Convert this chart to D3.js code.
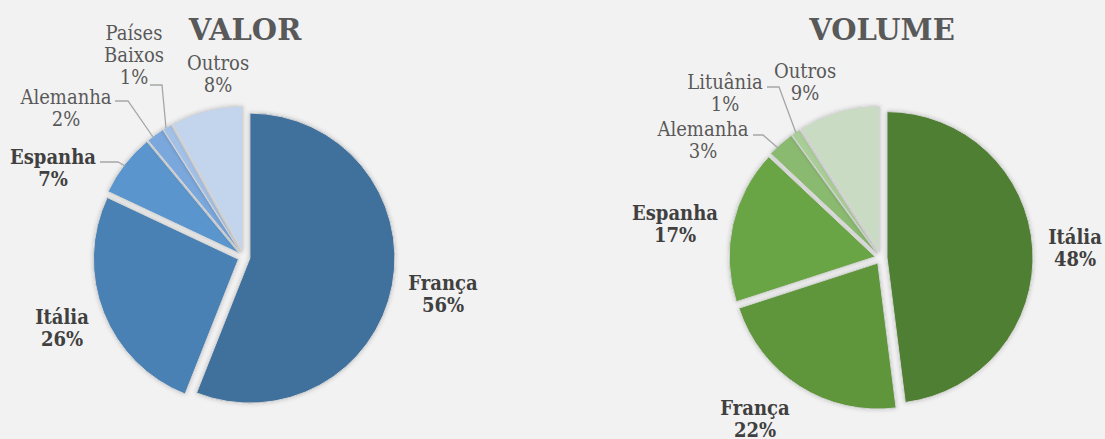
<!DOCTYPE html>
<html>
<head>
<meta charset="utf-8">
<script src="https://cdn.jsdelivr.net/npm/d3@7"></script>
<style>
  html, body { margin: 0; padding: 0; background: #f2f2f2; }
  svg { display: block; }
</style>
</head>
<body>
<svg id="chart" width="1105" height="439"></svg>
<script>
// Valor (value) shares, clockwise from 12 o'clock
const valorLabels = ['França', 'Itália', 'Espanha', 'Alemanha', 'Países Baixos', 'Outros'];
const valorValues = [56, 26, 7, 2, 1, 8];
const valorColors = ['#41709c', '#4a81b4', '#5a96cd', '#7aa7dc', '#a3c0e6', '#c3d5ec'];

// Volume shares, clockwise from 12 o'clock
const volumeLabels = ['Itália', 'França', 'Espanha', 'Alemanha', 'Lituânia', 'Outros'];
const volumeValues = [48, 22, 17, 3, 1, 9];
const volumeColors = ['#507f33', '#5e953b', '#6ba544', '#8aba6f', '#a9cd96', '#c9dcc3'];

const svg = d3.select('#chart');

// soft shadow around the slices
const defs = svg.append('defs');
const shadow = defs.append('filter')
  .attr('id', 'shadow')
  .attr('x', '-20%').attr('y', '-20%')
  .attr('width', '140%').attr('height', '140%');
shadow.append('feDropShadow')
  .attr('dx', 0).attr('dy', 0)
  .attr('stdDeviation', 2.2)
  .attr('flood-color', '#000')
  .attr('flood-opacity', 0.22);

// pie settings per chart: centre, radius, label placement
const charts = [
  {
    title: 'VALOR', cx: 244, cy: 257, r: 145, titleX: 245,
    labels: valorLabels, values: valorValues, colors: valorColors,
    text: [
      { x: 443, y: 283, bold: true, lines: ['França', '56%'] },
      { x: 62, y: 317, bold: true, lines: ['Itália', '26%'] },
      { x: 53, y: 157, bold: true, lines: ['Espanha', '7%'] },
      { x: 66, y: 97, bold: false, lines: ['Alemanha', '2%'] },
      { x: 134, y: 33, bold: false, lines: ['Países', 'Baixos', '1%'] },
      { x: 218, y: 63, bold: false, lines: ['Outros', '8%'] },
    ],
    leaders: [
      null, null,
      [[100, 162], [118, 162], [125, 166]],
      [[115, 101], [128, 101], [153, 137]],
      [[150, 85], [162, 85], [166, 128]],
      null,
    ],
  },
  {
    title: 'VOLUME', cx: 881, cy: 258, r: 146, titleX: 882,
    labels: volumeLabels, values: volumeValues, colors: volumeColors,
    text: [
      { x: 1075, y: 237, bold: true, lines: ['Itália', '48%'] },
      { x: 755, y: 408, bold: true, lines: ['França', '22%'] },
      { x: 675, y: 213, bold: true, lines: ['Espanha', '17%'] },
      { x: 703, y: 129, bold: false, lines: ['Alemanha', '3%'] },
      { x: 725, y: 82, bold: false, lines: ['Lituânia', '1%'] },
      { x: 805, y: 71, bold: false, lines: ['Outros', '9%'] },
    ],
    leaders: [
      null, null, null,
      [[753, 135], [763, 135], [778, 148]],
      [[767, 87], [779, 87], [796, 133]],
      null,
    ],
  },
];

const explode = 6;
const lineHeight = 22;

charts.forEach((c) => {
  const data = c.labels.map((label, i) => ({ label, value: c.values[i], color: c.colors[i] }));

  const pie = d3.pie().sort(null).value((d) => d.value);
  const arc = d3.arc().innerRadius(0).outerRadius(c.r);
  const arcs = pie(data);

  const g = svg.append('g').attr('transform', `translate(${c.cx},${c.cy})`);

  g.selectAll('path.slice')
    .data(arcs)
    .join('path')
    .attr('class', 'slice')
    .attr('transform', (d) => {
      const mid = (d.startAngle + d.endAngle) / 2;
      return `translate(${explode * Math.sin(mid)},${-explode * Math.cos(mid)})`;
    })
    .attr('d', arc)
    .attr('fill', (d) => d.data.color)
    .attr('stroke', '#d4d4d4')
    .attr('stroke-width', 1)
    .attr('filter', 'url(#shadow)');

  // leader lines
  c.leaders.forEach((pts) => {
    if (!pts) return;
    svg.append('path')
      .attr('d', d3.line()(pts))
      .attr('fill', 'none')
      .attr('stroke', '#a6a6a6')
      .attr('stroke-width', 1.3);
  });

  // data labels
  c.text.forEach((t) => {
    const txt = svg.append('text')
      .attr('text-anchor', 'middle')
      .attr('font-family', "'DejaVu Serif Condensed', 'DejaVu Serif', serif")
      .attr('font-stretch', 'condensed')
      .attr('font-size', 20)
      .attr('font-weight', t.bold ? 'bold' : 'normal')
      .attr('fill', t.bold ? '#404040' : '#595959');
    t.lines.forEach((line, i) => {
      txt.append('tspan')
        .attr('x', t.x)
        .attr('y', t.y + i * lineHeight)
        .attr('dy', '0.35em')
        .text(line);
    });
  });

  // title
  svg.append('text')
    .attr('x', c.titleX)
    .attr('y', 40)
    .attr('text-anchor', 'middle')
    .attr('font-family', "'DejaVu Serif', serif")
    .attr('font-weight', 'bold')
    .attr('font-size', 29)
    .attr('fill', '#595959')
    .text(c.title);
});
</script>
</body>
</html>
